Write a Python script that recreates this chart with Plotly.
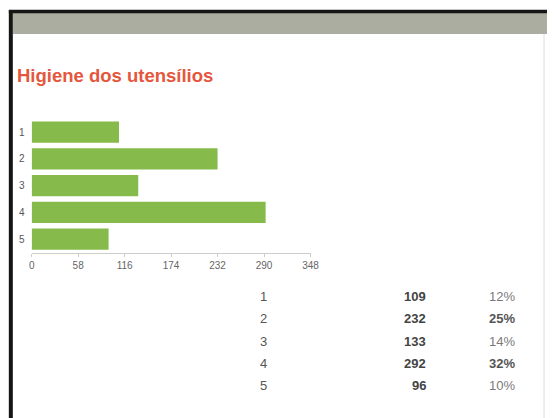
import plotly.graph_objects as go

# Survey answers for "Higiene dos utensílios"
categories = [1, 2, 3, 4, 5]
counts = [109, 232, 133, 292, 96]
percents = [12, 25, 14, 32, 10]
x_ticks = [0, 58, 116, 174, 232, 290, 348]

W, H = 555, 418
FONT = "Liberation Sans, Arial, sans-serif"
BAR_GREEN = "#86bb4b"


def px_x(p):
    return p / W


def px_y(p):
    return 1 - p / H


fig = go.Figure()
fig.add_trace(go.Bar(
    x=counts,
    y=categories,
    orientation="h",
    marker=dict(color=BAR_GREEN, line=dict(width=0)),
    hoverinfo="skip",
))

shapes = [
    # grey header band
    dict(type="rect", xref="paper", yref="paper",
         x0=px_x(10), x1=px_x(556), y0=px_y(34), y1=px_y(13),
         fillcolor="#aaad9f", line=dict(width=0), layer="below"),
    # dark frame: top and left edges
    dict(type="line", xref="paper", yref="paper",
         x0=px_x(6), x1=px_x(556), y0=px_y(11.5), y1=px_y(11.5),
         line=dict(color="#151515", width=3.5)),
    dict(type="line", xref="paper", yref="paper",
         x0=px_x(8), x1=px_x(8), y0=px_y(10), y1=px_y(419),
         line=dict(color="#151515", width=4)),
    # faint right edge
    dict(type="line", xref="paper", yref="paper",
         x0=px_x(553), x1=px_x(553), y0=px_y(34), y1=px_y(419),
         line=dict(color="#dddddd", width=1)),
]

annotations = [
    dict(text="<b>Higiene dos utensílios</b>", xref="paper", yref="paper",
         x=px_x(12), y=px_y(75), xanchor="left", yanchor="middle",
         showarrow=False, font=dict(family=FONT, size=18.5, color="#e4573d")),
]

# summary table below the chart
row0, row_step = 296.7, 22.25
for i, (cat, n, pct) in enumerate(zip(categories, counts, percents)):
    yy = px_y(row0 + i * row_step)
    annotations.append(dict(text=str(cat), xref="paper", yref="paper",
                            x=px_x(261), y=yy, xanchor="left", yanchor="middle",
                            showarrow=False,
                            font=dict(family=FONT, size=13, color="#555555")))
    annotations.append(dict(text=f"<b>{n}</b>", xref="paper", yref="paper",
                            x=px_x(434), y=yy, xanchor="right", yanchor="middle",
                            showarrow=False,
                            font=dict(family=FONT, size=13, color="#444444")))
    top = pct >= 20
    annotations.append(dict(text=f"<b>{pct}%</b>" if top else f"{pct}%",
                            xref="paper", yref="paper",
                            x=px_x(525), y=yy, xanchor="right", yanchor="middle",
                            showarrow=False,
                            font=dict(family=FONT, size=13,
                                      color="#555555" if top else "#7a7a7a")))

fig.update_layout(
    width=W, height=H,
    margin=dict(l=0, r=0, t=0, b=0),
    paper_bgcolor="white", plot_bgcolor="white",
    showlegend=False,
    bargap=0.2,
    shapes=shapes,
    annotations=annotations,
    xaxis=dict(
        domain=[px_x(29.3), px_x(314.3)],
        range=[0, 348],
        tickvals=x_ticks,
        ticktext=[str(v) for v in x_ticks],
        showgrid=False, zeroline=False,
        showline=True, linecolor="#cccccc", linewidth=1,
        ticks="outside", ticklen=3, tickcolor="#cccccc",
        tickfont=dict(family=FONT, size=10, color="#666666"),
        fixedrange=True,
    ),
    yaxis=dict(
        domain=[px_y(252.5), px_y(118.8)],
        range=[5.5, 0.5],
        tickvals=categories,
        ticktext=[str(c) for c in categories],
        showgrid=False, zeroline=False, showline=False,
        ticks="outside", ticklen=4, tickcolor="rgba(0,0,0,0)",
        tickfont=dict(family=FONT, size=10, color="#555555"),
        fixedrange=True,
    ),
)

fig.write_html("out.html", config={"displayModeBar": False, "staticPlot": True})
